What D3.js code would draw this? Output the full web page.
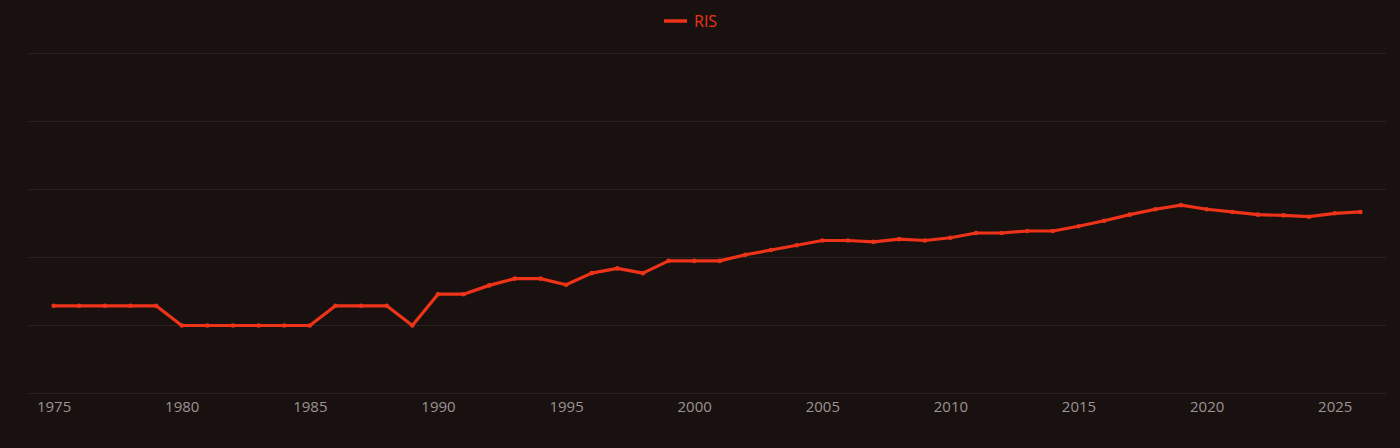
<!DOCTYPE html>
<html>
<head>
<meta charset="utf-8">
<script src="https://cdn.jsdelivr.net/npm/d3@7"></script>
<style>
  html, body { margin: 0; padding: 0; background: #191010; }
  svg { display: block; }
</style>
</head>
<body>
<svg id="chart" width="1400" height="448"></svg>
<script>
const seriesName = "RIS";
const years = [1975,1976,1977,1978,1979,1980,1981,1982,1983,1984,1985,1986,1987,1988,1989,1990,1991,1992,1993,1994,1995,1996,1997,1998,1999,2000,2001,2002,2003,2004,2005,2006,2007,2008,2009,2010,2011,2012,2013,2014,2015,2016,2017,2018,2019,2020,2021,2022,2023,2024,2025,2026];
const values = [12.9,12.9,12.9,12.9,12.9,10,10,10,10,10,10,12.9,12.9,12.9,10,14.6,14.6,15.9,16.9,16.9,16.0,17.7,18.4,17.7,19.5,19.5,19.5,20.4,21.1,21.8,22.5,22.5,22.3,22.7,22.5,22.9,23.6,23.6,23.9,23.9,24.6,25.4,26.3,27.1,27.7,27.1,26.7,26.3,26.2,26.0,26.5,26.7];
const yTicks = [0,10,20,30,40,50];
const xTicks = [1975,1980,1985,1990,1995,2000,2005,2010,2015,2020,2025];

const svg = d3.select("#chart");
const color = "#ee3318";
const font = "'Open Sans', 'Noto Sans', sans-serif";
const x = d3.scaleLinear().domain([1974, 2027]).range([28, 1386]);
const y = d3.scaleLinear().domain([0, 50]).range([393.5, 53.5]);

// grid
svg.append("g").selectAll("line").data(yTicks).join("line")
  .attr("x1", 28).attr("x2", 1386)
  .attr("y1", d => y(d)).attr("y2", d => y(d))
  .attr("stroke", "#2b2220").attr("stroke-width", 1);

// x axis
const xAxis = d3.axisBottom(x).tickValues(xTicks).tickFormat(d3.format("d")).tickSize(0).tickPadding(8);
const gx = svg.append("g").attr("transform", `translate(0,${y(0)})`).call(xAxis);
gx.select(".domain").remove();
gx.selectAll("text").attr("fill", "#9a9492").attr("font-family", font).attr("font-size", 15);

// line
const data = years.map((yr, i) => ({yr, v: values[i]}));
svg.append("path").datum(data)
  .attr("fill", "none").attr("stroke", color).attr("stroke-width", 3.2)
  .attr("stroke-linejoin", "round")
  .attr("d", d3.line().x(d => x(d.yr)).y(d => y(d.v)));
svg.append("g").selectAll("circle").data(data).join("circle")
  .attr("cx", d => x(d.yr)).attr("cy", d => y(d.v)).attr("r", 2.3).attr("fill", color);

// legend
const lg = svg.append("g");
lg.append("line").attr("x1", 664).attr("x2", 687).attr("y1", 21).attr("y2", 21)
  .attr("stroke", color).attr("stroke-width", 3.5);
lg.append("text").attr("x", 694).attr("y", 21).attr("dy", "0.36em")
  .attr("fill", color).attr("font-family", font).attr("font-size", 16)
  .text(seriesName);
</script>
</body>
</html>
